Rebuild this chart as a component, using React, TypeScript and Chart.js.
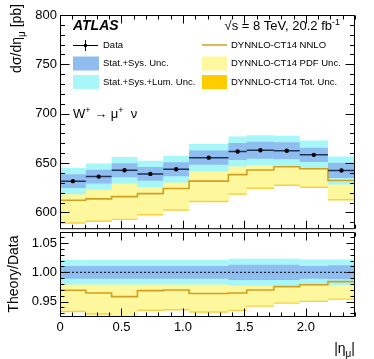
import React, { useEffect, useRef } from 'react';
import { Chart, registerables } from 'chart.js';
Chart.register(...registerables);

// ---- data ----
const binEdges = [0, 0.21, 0.42, 0.63, 0.84, 1.05, 1.37, 1.52, 1.74, 1.95, 2.18, 2.4];
const dataValues = [631.7, 636.3, 642.7, 639.0, 643.8, 655.5, 661.7, 663.0, 662.5, 658.3, 642.5];
const statSysRel = [0.011, 0.011, 0.011, 0.011, 0.011, 0.011, 0.013, 0.013, 0.013, 0.011, 0.012];
const statSysLumRel = [0.021, 0.021, 0.021, 0.021, 0.021, 0.021, 0.023, 0.023, 0.023, 0.022, 0.022];
const theoryNNLO = [612.3, 613.7, 616.0, 619.0, 624.3, 631.7, 638.3, 643.0, 646.3, 644.3, 632.3];
const pdfUp = [634.6, 635.7, 638.3, 639.7, 645.3, 651.7, 657.3, 660.7, 664.3, 662.3, 650.9];
const pdfDown = [590.0, 591.7, 593.7, 598.3, 603.3, 611.7, 619.3, 625.3, 628.3, 626.3, 613.7];
const totUp = [636.1, 637.2, 639.8, 641.2, 646.8, 653.2, 658.8, 662.2, 665.8, 663.8, 652.4];
const totDown = [588.5, 590.2, 592.2, 596.8, 601.8, 610.2, 617.8, 623.8, 626.8, 624.8, 612.2];
const mainYTicks = [600, 650, 700, 750, 800];
const ratioYTicks = [0.95, 1, 1.05];
const xTickLabels = [0, 0.5, 1, 1.5, 2];

// ---- styles ----
const FONT = "'Liberation Sans', Arial, Helvetica, sans-serif";
const C_BLUE = '#90bdf0';
const C_CYAN = '#a8f7f8';
const C_YELLOW = '#fdf79e';
const C_ORANGE = '#fbd03c';
const C_THEORY = '#d2a01e';
const C_DATABAR = '#1b3552';

type P = { x: number; y: number | null };

function stepPoints(vals: number[]): P[] {
  const pts: P[] = [];
  vals.forEach((v, i) => {
    pts.push({ x: binEdges[i], y: v });
    pts.push({ x: binEdges[i + 1], y: v });
  });
  return pts;
}

function barPoints(vals: number[]): P[] {
  const pts: P[] = [];
  vals.forEach((v, i) => {
    pts.push({ x: binEdges[i], y: v });
    pts.push({ x: binEdges[i + 1], y: v });
    pts.push({ x: binEdges[i + 1], y: null });
  });
  return pts;
}

function band(up: number[], down: number[], color: string, order: number) {
  return [
    { type: 'line', data: stepPoints(up), fill: '+1', backgroundColor: color, borderColor: 'rgba(0,0,0,0)', borderWidth: 0, pointRadius: 0, order },
    { type: 'line', data: stepPoints(down), fill: false, borderColor: 'rgba(0,0,0,0)', borderWidth: 0, pointRadius: 0, order },
  ];
}

function frameTicks(cfg: { xMinor: number; xMajor: number; yMinor: number; yMajor: number; xMajLen: number; xMinLen: number; yMajLen: number; yMinLen: number }) {
  return {
    id: 'frameTicks',
    afterDraw(chart: any) {
      const { ctx, chartArea: a, scales } = chart;
      const xs = scales.x, ys = scales.y;
      ctx.save();
      ctx.strokeStyle = '#000';
      ctx.lineWidth = 1;
      const L = a.left + 0.5, R = a.right - 0.5, T = a.top + 0.5, B = a.bottom - 0.5;
      ctx.beginPath();
      ctx.rect(L, T, R - L, B - T);
      ctx.stroke();
      ctx.beginPath();
      const isMaj = (v: number, m: number) => Math.abs(v / m - Math.round(v / m)) < 1e-6;
      for (let k = Math.ceil(xs.min / cfg.xMinor - 1e-9); k * cfg.xMinor <= xs.max + 1e-9; k++) {
        const v = k * cfg.xMinor;
        const px = Math.round(xs.getPixelForValue(v)) + 0.5;
        const len = isMaj(v, cfg.xMajor) ? cfg.xMajLen : cfg.xMinLen;
        ctx.moveTo(px, T); ctx.lineTo(px, T + len);
        ctx.moveTo(px, B); ctx.lineTo(px, B - len);
      }
      for (let k = Math.ceil(ys.min / cfg.yMinor - 1e-9); k * cfg.yMinor <= ys.max + 1e-9; k++) {
        const v = k * cfg.yMinor;
        const py = Math.round(ys.getPixelForValue(v)) + 0.5;
        const len = isMaj(v, cfg.yMajor) ? cfg.yMajLen : cfg.yMinLen;
        ctx.moveTo(L, py); ctx.lineTo(L + len, py);
        ctx.moveTo(R, py); ctx.lineTo(R - len, py);
      }
      ctx.stroke();
      ctx.restore();
    },
  };
}

type Part = { t: string; size: number; dy?: number; style?: string };
function drawParts(ctx: CanvasRenderingContext2D, parts: Part[], x: number, y: number, align: 'left' | 'right' = 'left') {
  const widths = parts.map((p) => {
    ctx.font = `${p.style || ''} ${p.size}px ${FONT}`;
    return ctx.measureText(p.t).width;
  });
  const total = widths.reduce((s, w) => s + w, 0);
  let cx = align === 'right' ? x - total : x;
  ctx.textAlign = 'left';
  parts.forEach((p, i) => {
    ctx.font = `${p.style || ''} ${p.size}px ${FONT}`;
    ctx.fillText(p.t, cx, y + (p.dy || 0));
    cx += widths[i];
  });
  return total;
}

const mainText = {
  id: 'mainText',
  afterDraw(chart: any) {
    const ctx: CanvasRenderingContext2D = chart.ctx;
    ctx.save();
    ctx.fillStyle = '#000';
    ctx.textBaseline = 'alphabetic';
    // ATLAS
    ctx.font = `italic bold 14px ${FONT}`;
    ctx.textAlign = 'left';
    ctx.fillText('ATLAS', 73, 30);
    // sqrt(s)
    drawParts(ctx, [
      { t: '√s = 8 TeV, 20.2 fb', size: 13 },
      { t: '-1', size: 9, dy: -5 },
    ], 340, 30, 'right');
    // W -> mu nu
    drawParts(ctx, [
      { t: 'W', size: 13 },
      { t: '+', size: 9, dy: -5 },
      { t: ' → μ', size: 13 },
      { t: '+', size: 9, dy: -5 },
      { t: '  ν', size: 13 },
    ], 73, 118);

    // legend
    const rows = [45, 63.5, 82];
    ctx.font = `9.5px ${FONT}`;
    ctx.textBaseline = 'middle';
    ctx.textAlign = 'left';
    // data symbol
    ctx.strokeStyle = '#000';
    ctx.lineWidth = 1;
    ctx.beginPath();
    ctx.moveTo(73, rows[0] + 0.5); ctx.lineTo(98, rows[0] + 0.5);
    ctx.moveTo(85.5, rows[0] - 5); ctx.lineTo(85.5, rows[0] + 6);
    ctx.stroke();
    ctx.beginPath();
    ctx.arc(85.5, rows[0] + 0.5, 1.8, 0, Math.PI * 2);
    ctx.fill();
    ctx.fillText('Data', 103, rows[0]);
    ctx.fillStyle = C_BLUE;
    ctx.fillRect(73, rows[1] - 7, 26, 14);
    ctx.fillStyle = C_CYAN;
    ctx.fillRect(73, rows[2] - 7, 26, 14);
    ctx.fillStyle = '#000';
    ctx.fillText('Stat.+Sys. Unc.', 103, rows[1]);
    ctx.fillText('Stat.+Sys.+Lum. Unc.', 103, rows[2]);
    // right column
    ctx.strokeStyle = C_THEORY;
    ctx.lineWidth = 1.5;
    ctx.beginPath();
    ctx.moveTo(202, rows[0]); ctx.lineTo(227, rows[0]);
    ctx.stroke();
    ctx.fillStyle = C_YELLOW;
    ctx.fillRect(202, rows[1] - 7, 25, 14);
    ctx.fillStyle = '#ffcc00';
    ctx.fillRect(202, rows[2] - 7, 25, 14);
    ctx.fillStyle = '#000';
    ctx.fillText('DYNNLO-CT14 NNLO', 231, rows[0]);
    ctx.fillText('DYNNLO-CT14 PDF Unc.', 231, rows[1]);
    ctx.fillText('DYNNLO-CT14 Tot. Unc.', 231, rows[2]);

    // y title
    ctx.textBaseline = 'alphabetic';
    ctx.translate(21, 4);
    ctx.rotate(-Math.PI / 2);
    const parts: Part[] = [
      { t: 'dσ/dη', size: 14 },
      { t: 'μ', size: 10, dy: 4 },
      { t: ' [pb]', size: 14 },
    ];
    let total = 0;
    parts.forEach((p) => { ctx.font = `${p.size}px ${FONT}`; total += ctx.measureText(p.t).width; });
    drawParts(ctx, parts, -total, 0);
    ctx.restore();
  },
};

const ratioText = {
  id: 'ratioText',
  afterDraw(chart: any) {
    const ctx: CanvasRenderingContext2D = chart.ctx;
    ctx.save();
    ctx.fillStyle = '#000';
    ctx.textBaseline = 'alphabetic';
    // x title
    drawParts(ctx, [
      { t: '|η', size: 14 },
      { t: 'μ', size: 10, dy: 4 },
      { t: '|', size: 14 },
    ], 355, 353, 'right');
    // y title
    ctx.translate(18, 274);
    ctx.rotate(-Math.PI / 2);
    ctx.font = `14px ${FONT}`;
    ctx.textAlign = 'center';
    ctx.fillText('Theory/Data', 0, 0);
    ctx.restore();
  },
};

const tickFont = { family: FONT, size: 13 };

export default function App() {
  const mainRef = useRef<HTMLCanvasElement>(null);
  const ratioRef = useRef<HTMLCanvasElement>(null);

  useEffect(() => {
    const dataCenters = dataValues.map((v, i) => ({ x: (binEdges[i] + binEdges[i + 1]) / 2, y: v }));
    const mainDatasets: any[] = [
      ...band(totUp, totDown, C_ORANGE, 10),
      ...band(pdfUp, pdfDown, C_YELLOW, 9),
      ...band(dataValues.map((v, i) => v * (1 + statSysLumRel[i])), dataValues.map((v, i) => v * (1 - statSysLumRel[i])), C_CYAN, 8),
      ...band(dataValues.map((v, i) => v * (1 + statSysRel[i])), dataValues.map((v, i) => v * (1 - statSysRel[i])), C_BLUE, 7),
      { type: 'line', data: stepPoints(theoryNNLO), borderColor: C_THEORY, borderWidth: 1.6, pointRadius: 0, fill: false, order: 6 },
      { type: 'line', data: barPoints(dataValues), borderColor: C_DATABAR, borderWidth: 1.5, pointRadius: 0, fill: false, spanGaps: false, order: 5 },
      { type: 'line', data: dataCenters, showLine: false, pointRadius: 2.2, pointBackgroundColor: '#000', pointBorderWidth: 0, order: 4 },
    ];

    const ratio = (arr: number[]) => arr.map((v, i) => v / dataValues[i]);
    const ratioDatasets: any[] = [
      ...band(ratio(totUp), ratio(totDown), C_ORANGE, 10),
      ...band(ratio(pdfUp), ratio(pdfDown), C_YELLOW, 9),
      ...band(statSysLumRel.map((u) => 1 + u), statSysLumRel.map((u) => 1 - u), C_CYAN, 8),
      ...band(statSysRel.map((u) => 1 + u), statSysRel.map((u) => 1 - u), C_BLUE, 7),
      { type: 'line', data: [{ x: binEdges[0], y: 1 }, { x: binEdges[binEdges.length - 1], y: 1 }], borderColor: '#000', borderWidth: 1, borderDash: [2, 2], pointRadius: 0, fill: false, order: 6 },
      { type: 'line', data: stepPoints(ratio(theoryNNLO)), borderColor: C_THEORY, borderWidth: 1.6, pointRadius: 0, fill: false, order: 5 },
    ];

    const common = {
      responsive: false,
      animation: false as const,
      events: [] as any[],
      plugins: { legend: { display: false }, tooltip: { enabled: false } },
      elements: { line: { tension: 0 } },
    };

    const main = new Chart(mainRef.current!, {
      type: 'line',
      data: { datasets: mainDatasets },
      options: {
        ...common,
        layout: { padding: { left: 8, right: 19, top: 15, bottom: 8 } },
        scales: {
          x: { type: 'linear', min: 0, max: 2.4, display: false },
          y: {
            type: 'linear', min: 583, max: 800,
            afterFit: (s: any) => { s.width = 52; },
            afterBuildTicks: (s: any) => { s.ticks = mainYTicks.map((v) => ({ value: v })); },
            grid: { display: false, drawTicks: false },
            border: { display: false },
            ticks: { font: tickFont, color: '#000', padding: 3 },
          },
        },
      } as any,
      plugins: [frameTicks({ xMinor: 0.1, xMajor: 0.5, yMinor: 10, yMajor: 50, xMajLen: 8, xMinLen: 4, yMajLen: 9, yMinLen: 4.5 }), mainText],
    });

    const rat = new Chart(ratioRef.current!, {
      type: 'line',
      data: { datasets: ratioDatasets },
      options: {
        ...common,
        layout: { padding: { left: 8, right: 19, top: 232, bottom: 0 } },
        scales: {
          x: {
            type: 'linear', min: 0, max: 2.4,
            afterFit: (s: any) => { s.height = 42; },
            afterBuildTicks: (s: any) => { s.ticks = xTickLabels.map((v) => ({ value: v })); },
            grid: { display: false, drawTicks: false },
            border: { display: false },
            ticks: { font: tickFont, color: '#000', padding: 3, autoSkip: false, maxRotation: 0 },
          },
          y: {
            type: 'linear', min: 0.9235, max: 1.069,
            afterFit: (s: any) => { s.width = 52; },
            afterBuildTicks: (s: any) => { s.ticks = ratioYTicks.map((v) => ({ value: v })); },
            grid: { display: false, drawTicks: false },
            border: { display: false },
            ticks: { font: tickFont, color: '#000', padding: 3 },
          },
        },
      } as any,
      plugins: [frameTicks({ xMinor: 0.1, xMajor: 0.5, yMinor: 0.01, yMajor: 0.05, xMajLen: 8, xMinLen: 4, yMajLen: 8, yMinLen: 4 }), ratioText],
    });

    return () => {
      main.destroy();
      rat.destroy();
    };
  }, []);

  return (
    <div style={{ position: 'fixed', left: 0, top: 0, width: 374, height: 359, background: '#fff' }}>
      <canvas ref={mainRef} width={374} height={240} style={{ position: 'absolute', left: 0, top: 0, width: 374, height: 240 }} />
      <canvas ref={ratioRef} width={374} height={359} style={{ position: 'absolute', left: 0, top: 0, width: 374, height: 359 }} />
    </div>
  );
}
